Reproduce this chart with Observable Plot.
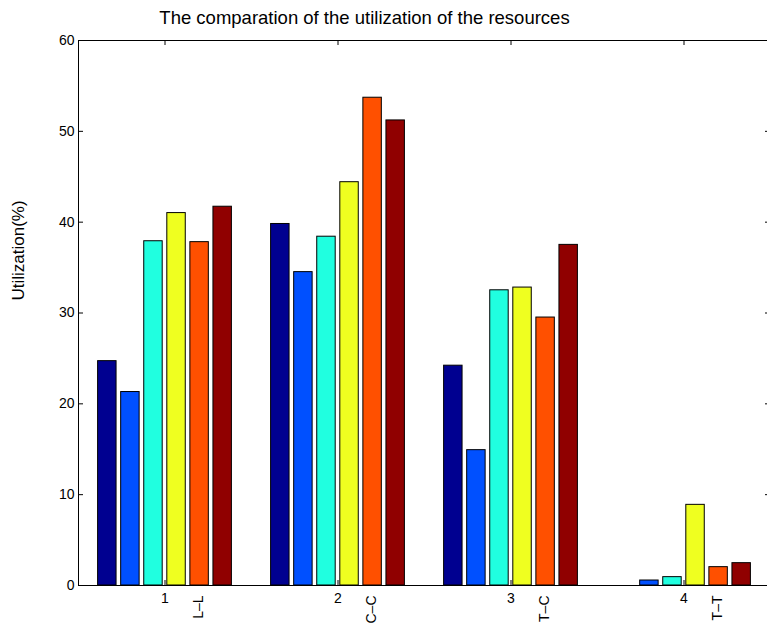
<!DOCTYPE html>
<html>
<head>
<meta charset="utf-8">
<script src="https://cdn.jsdelivr.net/npm/d3@7"></script>
<script src="https://cdn.jsdelivr.net/npm/@observablehq/plot@0.6"></script>
<style>
  html, body { margin: 0; padding: 0; background: #fff; overflow: hidden; }
  #chart svg { display: block; max-width: none !important; width: 771px !important; height: 625px !important; font-family: "Liberation Sans", Arial, Helvetica, sans-serif; }
</style>
</head>
<body>
<div id="chart"></div>
<script>
// ---- data ----
const groups = [1, 2, 3, 4];
const categories = ["L–L", "C–C", "T–C", "T–T"];
const seriesNames = ["S1", "S2", "S3", "S4", "S5", "S6"];
const seriesColors = ["#000090", "#0050ff", "#20ffe0", "#efff20", "#ff5000", "#900000"];
const group1 = [24.7, 21.3, 37.9, 41.0, 37.8, 41.7];
const group2 = [39.8, 34.5, 38.4, 44.4, 53.7, 51.2];
const group3 = [24.2, 14.9, 32.5, 32.8, 29.5, 37.5];
const group4 = [0.0, 0.55, 0.92, 8.88, 2.02, 2.46];
const yTicks = [0, 10, 20, 30, 40, 50, 60];
const title = "The comparation of the utilization of the resources";
const yLabel = "Utilization(%)";

// ---- grouped-bar layout (MATLAB style: group width 0.8, bar width 0.8 of slot) ----
const groupValues = [group1, group2, group3, group4];
const n = seriesNames.length;
const slot = 0.8 / n;
const barW = slot * 0.8;
const bars = [];
groupValues.forEach((vals, gi) => {
  vals.forEach((v, si) => {
    const c = groups[gi] + (si - (n - 1) / 2) * slot;
    bars.push({group: groups[gi], series: seriesNames[si], value: v, x1: c - barW / 2, x2: c + barW / 2});
  });
});
const catTable = groups.map((g, i) => ({group: g, cat: categories[i]}));

const W = 771, H = 625, ML = 78, MR = 1, MT = 40, MB = 40;
const frameW = W - ML - MR, frameH = H - MT - MB;

const chart = Plot.plot({
  width: W,
  height: H,
  marginLeft: ML,
  marginRight: MR,
  marginTop: MT,
  marginBottom: MB,
  style: {fontFamily: "'Liberation Sans', Arial, Helvetica, sans-serif", color: "black", background: "white", maxWidth: "none"},
  x: {domain: [0.5, 4.5]},
  y: {domain: [0, 60]},
  color: {domain: seriesNames, range: seriesColors},
  marks: [
    Plot.rectY(bars, {x1: "x1", x2: "x2", y: "value", fill: "series", stroke: "black", strokeWidth: 1}),
    Plot.frame({stroke: "black", strokeWidth: 1}),
    // inward ticks
    Plot.tickY(yTicks, {y: d => d, insetRight: frameW - 5, stroke: "black"}),
    Plot.tickY(yTicks, {y: d => d, insetLeft: frameW - 5, stroke: "black"}),
    Plot.tickX(groups, {x: d => d, insetBottom: frameH - 5, stroke: "black"}),
    Plot.tickX(groups, {x: d => d, insetTop: frameH - 5, stroke: "black"}),
    // tick labels
    Plot.axisY({ticks: yTicks, tickSize: 0, tickPadding: 4, fontSize: 14, label: null}),
    Plot.axisX({ticks: groups, tickSize: 0, tickPadding: 8, fontSize: 14, label: null, tickFormat: d => String(d)}),
    // rotated category labels
    Plot.text(catTable, {x: "group", text: "cat", frameAnchor: "bottom", dy: 10, dx: 34, rotate: -90, textAnchor: "end", lineAnchor: "middle", fontSize: 14}),
    // y label
    Plot.text([yLabel], {text: d => d, frameAnchor: "top-left", dx: -60, dy: 260, rotate: -90, textAnchor: "start", lineAnchor: "middle", fontSize: 17}),
    // title
    Plot.text([title], {text: d => d, frameAnchor: "top-left", dx: 286, dy: -22, textAnchor: "middle", lineAnchor: "middle", fontSize: 18.5})
  ]
});
document.getElementById("chart").appendChild(chart);
</script>
</body>
</html>
